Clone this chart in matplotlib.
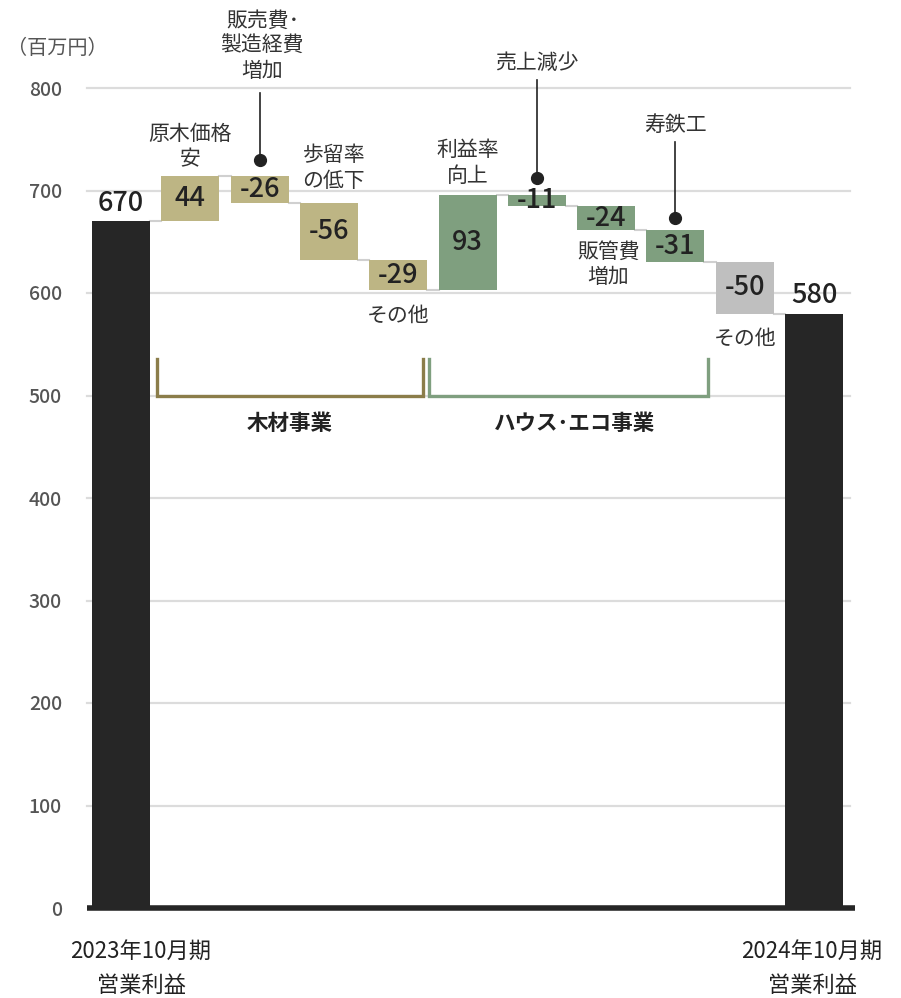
import matplotlib
matplotlib.use("Agg")
import matplotlib.pyplot as plt
import numpy as np

plt.rcParams['font.family'] = ['Noto Sans CJK JP', 'DejaVu Sans']

# ---- data ----
categories = ['2023年10月期\n営業利益', '原木価格\n安', '販売費･\n製造経費\n増加', '歩留率\nの低下', 'その他',
              '利益率\n向上', '売上減少', '販管費\n増加', '寿鉄工', 'その他', '2024年10月期\n営業利益']
values = [670, 44, -26, -56, -29, 93, -11, -24, -31, -50, 580]
kinds = ['total', 'wood', 'wood', 'wood', 'wood', 'house', 'house', 'house', 'house', 'other', 'total']
yticks = [0, 100, 200, 300, 400, 500, 600, 700, 800]
groups = ['木材事業', 'ハウス･エコ事業']

# ---- styles ----
colors = {'total': '#262626', 'wood': '#BDB584', 'house': '#7F9F7F', 'other': '#BFBFBF'}
bracket_colors = ['#8B7D4A', '#7F9F7F']
# label placements: (x, y, has_leader, leader_top, dot_y)
label_pos = {
    1: (1.0, 743, False, None, None),
    2: (2.04, 841, True, 795, 730),
    3: (3.07, 722, False, None, None),
    4: (4.0, 578, False, None, None),
    5: (5.0, 727, False, None, None),
    6: (6.0, 824, True, 808, 712),
    7: (7.03, 628, False, None, None),
    8: (8.0, 764, True, 747, 673),
    9: (9.0, 555, False, None, None),
}
bracket_x = [(0.52, 4.36), (4.44, 8.47)]
bracket_label_x = [2.44, 6.55]

fig = plt.figure(figsize=(9.01, 9.98), dpi=100)
ax = fig.add_axes([87/901, (998-908)/998, (855-87)/901, 820/998])

n = len(values)
x = np.arange(n)
bottoms = []
heights = []
levels = []
running = 0
for i, v in enumerate(values):
    if kinds[i] == 'total':
        bottoms.append(0)
        heights.append(v)
        running = v
    else:
        bottoms.append(running if v >= 0 else running + v)
        heights.append(abs(v))
        running += v
    levels.append(running)
bottoms = np.array(bottoms, dtype=float)
heights = np.array(heights, dtype=float)

width = 0.837
ax.set_xlim(-0.49, 10.59)
ax.set_ylim(0, 800)

# grid
for t in yticks[1:]:
    ax.plot([-0.49, 10.52], [t, t], color='#DCDCDC', lw=1.6, zorder=0, clip_on=False)

ax.bar(x, heights, bottom=bottoms, width=width,
       color=[colors[k] for k in kinds], zorder=2)

# connectors
for i in range(n - 1):
    ax.plot([x[i] + width/2, x[i+1] - width/2], [levels[i], levels[i]],
            color='#D0D0D0', lw=1.5, zorder=1)

# baseline
ax.plot([-0.49, 10.59], [0, 0], color='#262626', lw=4, zorder=3, solid_capstyle='butt', clip_on=False)

# value labels
for i, v in enumerate(values):
    if kinds[i] == 'total':
        ax.text(x[i], v + 4, f'{v}', ha='center', va='bottom', fontsize=19.5,
                fontweight='medium', color='#222222', zorder=4)
    else:
        ax.text(x[i], bottoms[i] + heights[i]/2, f'{v}', ha='center', va='center', fontsize=19.5,
                fontweight='medium', color='#222222', zorder=4)

# category labels
for i, (lx, ly, lead, ltop, dy) in label_pos.items():
    ax.text(lx, ly, categories[i], ha='center', va='center', fontsize=15, color='#333333',
            linespacing=1.2, clip_on=False, zorder=4)
    if lead:
        ax.plot([x[i], x[i]], [ltop, dy], color='#222222', lw=1.2, clip_on=False, zorder=4)
        ax.plot([x[i]], [dy], 'o', color='#222222', ms=8.5, clip_on=False, zorder=4)

# brackets
for (x0, x1), c, lbx, g in zip(bracket_x, bracket_colors, bracket_label_x, groups):
    ax.plot([x0, x0, x1, x1], [536, 500, 500, 536], color=c, lw=2.4, zorder=3,
            solid_joinstyle='miter')
    ax.text(lbx, 473, g, ha='center', va='center', fontsize=15.5, fontweight='semibold',
            color='#222222')

# x labels for totals
for xi, i in [(0.29, 0), (9.97, 10)]:
    ax.text(xi, -59, categories[i], ha='center', va='center', fontsize=16, color='#222222',
            linespacing=1.6, clip_on=False)

# y axis
ax.set_yticks(yticks)
ax.set_yticklabels([str(t) for t in yticks], fontsize=14, color='#555555', fontweight='medium')
ax.tick_params(axis='y', length=0, pad=18)
ax.set_xticks([])
for s in ax.spines.values():
    s.set_visible(False)

fig.text(57/901, 1 - 48/998, '（百万円）', ha='center', va='center', fontsize=14.5, color='#555555')

fig.savefig('out.png', dpi=100)
